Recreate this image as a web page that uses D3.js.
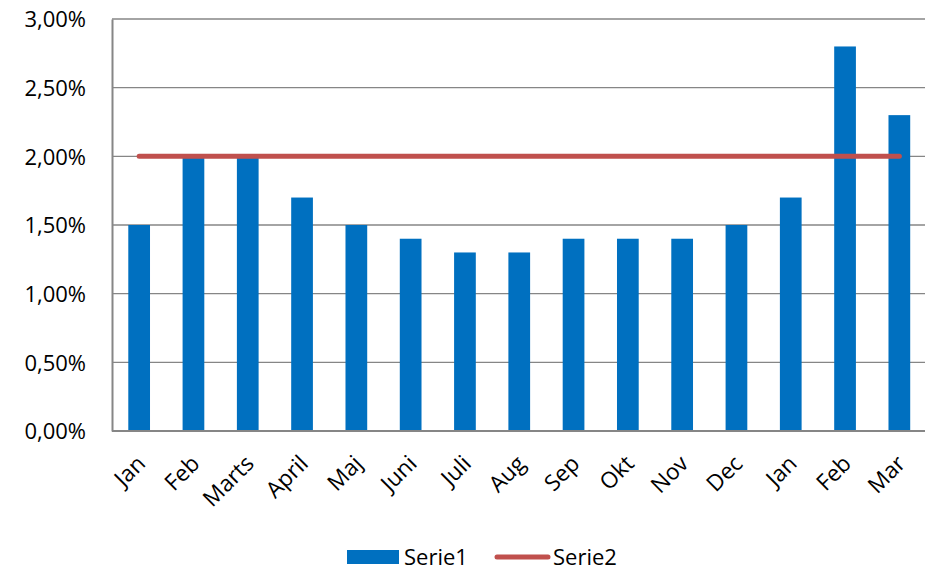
<!DOCTYPE html>
<html><head><meta charset="utf-8">
<script src="https://cdn.jsdelivr.net/npm/d3@7"></script>
<style>body{margin:0;background:#fff;} svg{display:block;} text{font-family:"Open Sans",sans-serif;}</style>
</head><body>
<svg id="c" width="926" height="572"></svg>
<script>
const categories = ["Jan","Feb","Marts","April","Maj","Juni","Juli","Aug","Sep","Okt","Nov","Dec","Jan","Feb","Mar"];
const serie1 = [1.5,2.0,2.0,1.7,1.5,1.4,1.3,1.3,1.4,1.4,1.4,1.5,1.7,2.8,2.3];
const serie2 = [2,2,2,2,2,2,2,2,2,2,2,2,2,2,2];
const yTicks = [0,0.5,1,1.5,2,2.5,3];
const seriesNames = ["Serie1","Serie2"];

const FONT = '"Open Sans",sans-serif';
const svg = d3.select("#c");
const L = 112, R = 926.5, T = 19, B = 431;
const idx = categories.map((d,i)=>i);
const x = d3.scaleBand().domain(idx).range([L,R]).paddingInner(0.6).paddingOuter(0.3);
const xc = d3.scalePoint().domain(idx).range([L,R]).padding(0.5);
const y = d3.scaleLinear().domain([0,3]).range([B,T]);
const fmt = v => d3.format(".2f")(v).replace(".",",") + "%";

// gridlines
svg.append("g").selectAll("line").data(yTicks.filter(t=>t>0)).join("line")
  .attr("x1",L).attr("x2",925).attr("y1",d=>y(d)).attr("y2",d=>y(d))
  .attr("stroke","#868686").attr("stroke-width",1.3);

// bars
svg.append("g").selectAll("rect").data(serie1).join("rect")
  .attr("x",(d,i)=>x(i)).attr("width",x.bandwidth())
  .attr("y",d=>y(d)).attr("height",d=>B-y(d))
  .attr("fill","#0070C0");

// axes
const yAxis = d3.axisLeft(y).tickValues(yTicks).tickFormat(fmt).tickSize(0).tickPadding(26);
const gy = svg.append("g").attr("transform",`translate(${L},0)`).call(yAxis).attr("font-family",FONT);
gy.select(".domain").attr("stroke","#868686").attr("stroke-width",2);
gy.selectAll("text").attr("font-size",22).attr("fill","#000").attr("dy","0.36em");

const xAxis = d3.axisBottom(xc).tickFormat(i=>categories[i]).tickSize(0);
const gx = svg.append("g").attr("transform",`translate(0,${B})`).call(xAxis).attr("font-family",FONT);
gx.select(".domain").attr("d",`M${L},0H925`).attr("stroke","#868686").attr("stroke-width",2);
gx.selectAll("text").attr("font-size",22.5).attr("fill","#000")
  .attr("text-anchor","end").attr("dy",0).attr("y",0)
  .attr("transform","translate(7,34) rotate(-45)");

// line
const line = d3.line().x((d,i)=>xc(i)).y(d=>y(d));
svg.append("path").datum(serie2).attr("d",line).attr("fill","none")
  .attr("stroke","#C0504D").attr("stroke-width",5).attr("stroke-linecap","round");

// legend
const lg = svg.append("g").attr("font-family",FONT);
lg.append("rect").attr("x",347).attr("y",550).attr("width",52).attr("height",14).attr("fill","#0070C0");
lg.append("text").attr("x",404).attr("y",565).attr("font-size",22).text(seriesNames[0]);
lg.append("line").attr("x1",497).attr("x2",548).attr("y1",557).attr("y2",557)
  .attr("stroke","#C0504D").attr("stroke-width",5).attr("stroke-linecap","round");
lg.append("text").attr("x",553).attr("y",565).attr("font-size",22).text(seriesNames[1]);
</script>
</body></html>
